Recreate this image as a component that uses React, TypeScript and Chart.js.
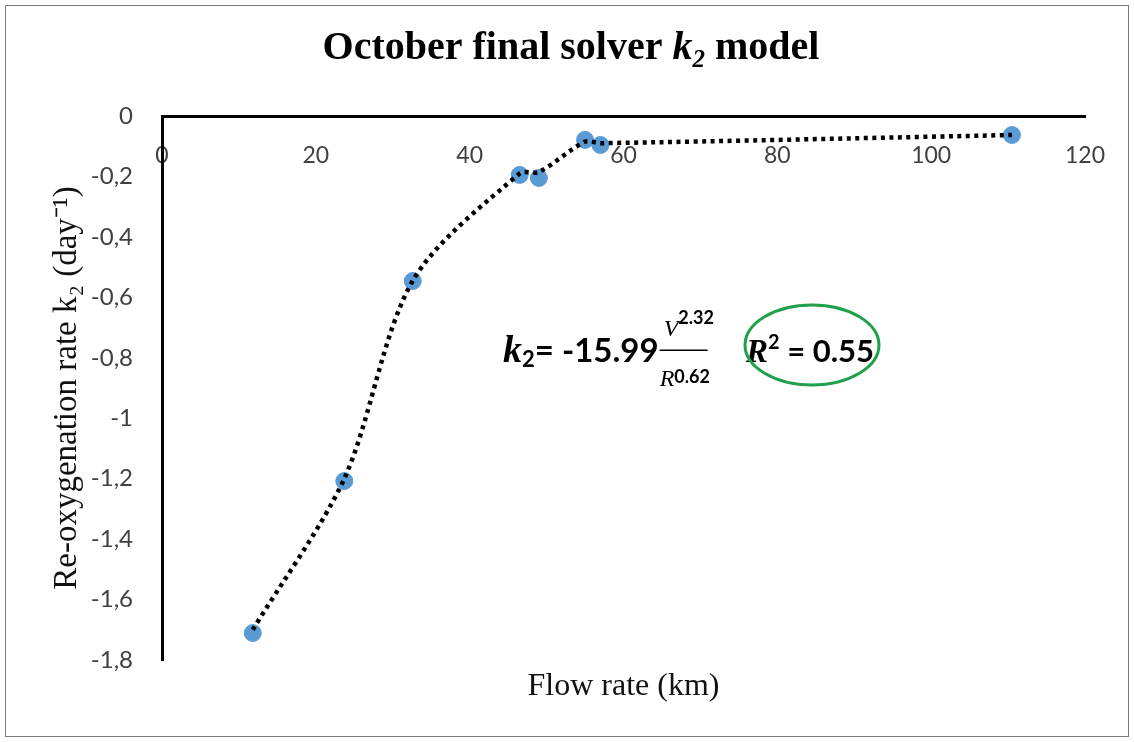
import React, { useEffect, useRef } from "react";
import { Chart, registerables } from "chart.js";

Chart.register(...registerables);

// ---- data ----
const flowRate = [11.8, 23.7, 32.6, 46.5, 49.0, 55.0, 57.0, 110.5];
const k2Observed = [-1.711, -1.208, -0.546, -0.195, -0.205, -0.079, -0.096, -0.063];
const k2Model = [-1.7, -1.2, -0.545, -0.19, -0.185, -0.085, -0.09, -0.063];

const xTickValues = [0, 20, 40, 60, 80, 100, 120];
const yTickValues = [0, -0.2, -0.4, -0.6, -0.8, -1, -1.2, -1.4, -1.6, -1.8];
const yTickLabels = ["0", "-0,2", "-0,4", "-0,6", "-0,8", "-1", "-1,2", "-1,4", "-1,6", "-1,8"];

const titleText = "October final solver k₂ model";
const yTitle = "Re-oxygenation rate k₂ (day⁻¹)";
const xTitle = "Flow rate (km)";

const SERIF = '"Liberation Serif", "Times New Roman", serif';
const SANS = 'Lato, "Open Sans", sans-serif';

type Run = { t: string; f: string; dy?: number };

function drawRuns(ctx: CanvasRenderingContext2D, runs: Run[], x: number, y: number, align: "left" | "center" = "left") {
  let total = 0;
  const widths = runs.map((r) => {
    ctx.font = r.f;
    const w = ctx.measureText(r.t).width;
    total += w;
    return w;
  });
  let cx = align === "center" ? x - total / 2 : x;
  ctx.textAlign = "left";
  ctx.textBaseline = "alphabetic";
  runs.forEach((r, i) => {
    ctx.font = r.f;
    ctx.fillText(r.t, cx, y + (r.dy || 0));
    cx += widths[i];
  });
  return cx;
}

const textPlugin = {
  id: "customText",
  afterDraw(chart: any) {
    const ctx: CanvasRenderingContext2D = chart.ctx;
    ctx.save();
    // frame
    ctx.strokeStyle = "#7a7a7a";
    ctx.lineWidth = 1;
    ctx.strokeRect(5.5, 5.5, chart.width - 11, chart.height - 11);

    // title
    ctx.fillStyle = "#000";
    const parts = titleText.split("k₂");
    drawRuns(
      ctx,
      [
        { t: parts[0], f: `bold 40px ${SERIF}` },
        { t: "k", f: `italic bold 40px ${SERIF}` },
        { t: "2", f: `italic bold 25px ${SERIF}`, dy: 8 },
        { t: parts[1], f: `bold 40px ${SERIF}` },
      ],
      571,
      59,
      "center"
    );

    // equation annotation
    ctx.fillStyle = "#000";
    const base = 362;
    const x = drawRuns(ctx, [
      { t: "k", f: `italic bold 38px ${SERIF}` },
      { t: "2", f: `bold 22px ${SANS}`, dy: 5 },
      { t: "= -15.99", f: `bold 33px ${SANS}` },
    ], 503, base);
    // fraction
    const fx = x + 1;
    drawRuns(ctx, [
      { t: "V", f: `italic 24px ${SERIF}` },
      { t: "2.32", f: `bold 18px ${SANS}`, dy: -12 },
    ], fx + 4, 336);
    ctx.fillRect(fx, 349.5, 48, 1.5);
    drawRuns(ctx, [
      { t: "R", f: `italic 24px ${SERIF}` },
      { t: "0.62", f: `bold 18px ${SANS}`, dy: -3 },
    ], fx, 386);

    // R^2
    drawRuns(ctx, [
      { t: "R", f: `italic bold 33px ${SERIF}` },
      { t: "2", f: `bold 20px ${SANS}`, dy: -13 },
      { t: " = 0.55", f: `bold 31px ${SANS}` },
    ], 746, base);

    // green ellipse
    ctx.strokeStyle = "#20a04b";
    ctx.lineWidth = 3;
    ctx.beginPath();
    ctx.ellipse(812, 345, 67, 40, 0, 0, Math.PI * 2);
    ctx.stroke();
    ctx.restore();
  },
};

export default function App() {
  const ref = useRef<HTMLCanvasElement | null>(null);

  useEffect(() => {
    if (!ref.current) return;
    const observed = flowRate.map((x, i) => ({ x, y: k2Observed[i] }));
    const model = flowRate.map((x, i) => ({ x, y: k2Model[i] }));
    const chart = new Chart(ref.current, {
      type: "scatter",
      data: {
        datasets: [
          {
            label: "model",
            data: model,
            showLine: true,
            borderColor: "#000",
            borderWidth: 4.5,
            borderDash: [4, 4.5],
            tension: 0.3,
            pointRadius: 0,
            order: 1,
          },
          {
            label: "observed",
            data: observed,
            showLine: false,
            backgroundColor: "#5b9bd5",
            borderColor: "#5b9bd5",
            borderWidth: 1,
            pointRadius: 8.5,
            order: 2,
          },
        ],
      },
      options: {
        animation: false,
        responsive: true,
        maintainAspectRatio: false,
        layout: { padding: { top: 116, right: 49, left: 0, bottom: 0 } },
        plugins: { legend: { display: false }, tooltip: { enabled: false }, title: { display: false } },
        scales: {
          x: {
            type: "linear",
            position: { y: 0 } as any,
            min: 0,
            max: 120,
            afterBuildTicks: (s: any) => {
              s.ticks = xTickValues.map((v) => ({ value: v }));
            },
            afterFit: (s: any) => {
              s.paddingLeft = 0;
              s.paddingRight = 0;
            },
            grid: { display: false, drawTicks: false },
            border: { display: true, color: "#000", width: 3 },
            ticks: {
              padding: 26,
              color: "#404040",
              font: { family: SANS, size: 23 },
              maxRotation: 0,
              autoSkip: false,
            },
          },
          x2: {
            type: "linear",
            axis: "x",
            position: "bottom",
            min: 0,
            max: 120,
            grid: { display: false, drawTicks: false },
            border: { display: false },
            ticks: { display: false },
            afterFit: (s: any) => {
              s.height = 82;
              s.paddingLeft = 0;
              s.paddingRight = 0;
            },
            title: {
              display: true,
              text: xTitle,
              color: "#111",
              font: { family: SERIF, size: 32 },
              padding: { top: 0, bottom: 36 },
            },
          },
          y: {
            type: "linear",
            position: "left",
            min: -1.8,
            max: 0,
            afterBuildTicks: (s: any) => {
              s.ticks = [...yTickValues].reverse().map((v) => ({ value: v }));
            },
            afterFit: (s: any) => {
              s.width = 162;
              s.paddingTop = 0;
              s.paddingBottom = 0;
            },
            grid: { display: false, drawTicks: false },
            border: { display: true, color: "#000", width: 3 },
            ticks: {
              padding: 29,
              color: "#404040",
              font: { family: SANS, size: 24 },
              autoSkip: false,
              callback: (v: any) => {
                const i = yTickValues.findIndex((t) => Math.abs(t - Number(v)) < 1e-9);
                return i >= 0 ? yTickLabels[i] : "";
              },
            },
            title: {
              display: true,
              text: yTitle,
              color: "#111",
              font: { family: SERIF, size: 33 },
              padding: { top: 48, bottom: 0 },
            },
          },
        },
      },
      plugins: [textPlugin],
    });
    return () => chart.destroy();
  }, []);

  return (
    <div style={{ position: "absolute", left: 0, top: 0, width: 1134, height: 742, background: "#fff" }}>
      <canvas ref={ref} />
    </div>
  );
}
